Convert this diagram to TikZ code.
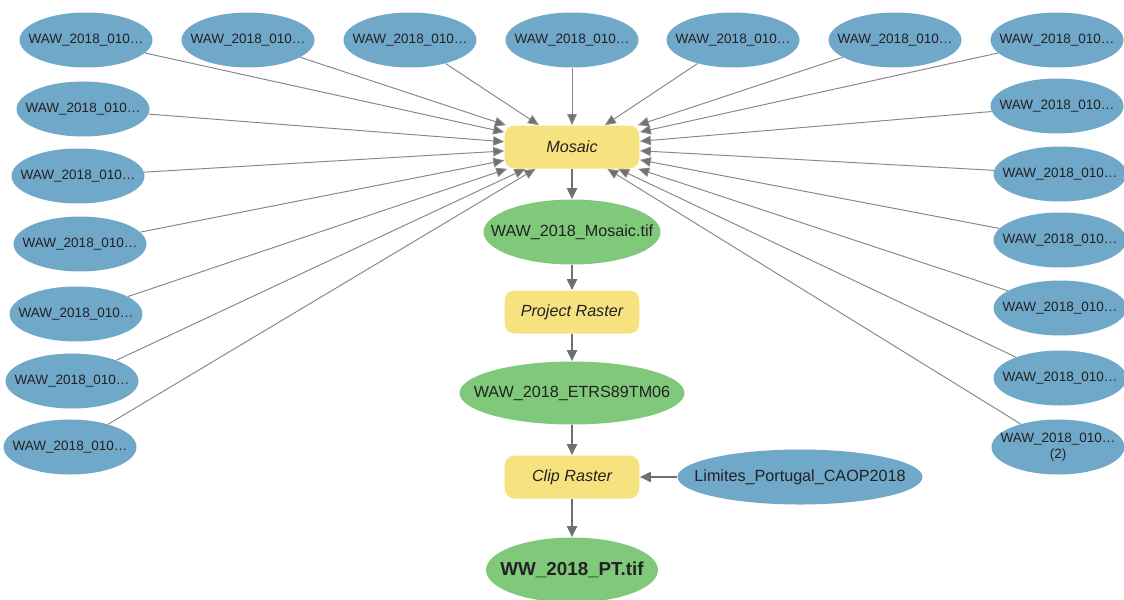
\documentclass[tikz,border=0pt]{standalone}
\usepackage{fontspec}
\setmainfont{Liberation Sans}
\usetikzlibrary{shapes.geometric,arrows.meta}

\definecolor{inblue}{RGB}{111,168,201}
\definecolor{toolyellow}{RGB}{247,226,128}
\definecolor{datagreen}{RGB}{128,201,122}
\definecolor{txt}{RGB}{34,34,34}
\definecolor{feedgray}{RGB}{135,135,135}
\definecolor{flowgray}{RGB}{112,112,112}

\newcommand{\lbl}[1]{\makebox[0pt]{#1}}

\tikzset{
  src/.style={ellipse, fill=inblue, inner sep=0pt, minimum width=2.66cm,
    minimum height=1.1cm, text=txt, font=\fontsize{7.7}{9}\selectfont},
  tool/.style={rectangle, rounded corners=0.2cm, fill=toolyellow, minimum width=2.7cm,
    minimum height=0.86cm, text=txt, font=\fontsize{9.2}{11}\selectfont\itshape},
  dataout/.style={ellipse, fill=datagreen, inner sep=0pt, minimum width=3.54cm,
    minimum height=1.3cm, text=txt, font=\fontsize{9.2}{11}\selectfont},
  feed/.style={draw=feedgray, line width=0.55pt, -{Triangle[length=0.22cm,width=0.19cm,fill=flowgray]}},
  flow/.style={draw=flowgray, line width=1.1pt, -{Triangle[length=0.22cm,width=0.2cm]}}
}

\begin{document}
\begin{tikzpicture}[x=0.02cm,y=-0.02cm]
\useasboundingbox (0,0) rectangle (1124,599);

% tool in the middle
\node[tool] (mosaic) at (572,147) {Mosaic};

% input rasters, top row
\node[src] (t1) at (86,40) {\lbl{WAW\_2018\_010…}};
\node[src] (t2) at (248,40) {\lbl{WAW\_2018\_010…}};
\node[src] (t3) at (410,40) {\lbl{WAW\_2018\_010…}};
\node[src] (t4) at (572,40) {\lbl{WAW\_2018\_010…}};
\node[src] (t5) at (733,40) {\lbl{WAW\_2018\_010…}};
\node[src] (t6) at (895,40) {\lbl{WAW\_2018\_010…}};
\node[src] (t7) at (1057,40) {\lbl{WAW\_2018\_010…}};

% left column
\node[src] (l1) at (83,109) {\lbl{WAW\_2018\_010…}};
\node[src] (l2) at (78,176) {\lbl{WAW\_2018\_010…}};
\node[src] (l3) at (80,244) {\lbl{WAW\_2018\_010…}};
\node[src] (l4) at (76,314) {\lbl{WAW\_2018\_010…}};
\node[src] (l5) at (72,381) {\lbl{WAW\_2018\_010…}};
\node[src] (l6) at (70,447) {\lbl{WAW\_2018\_010…}};

% right column
\node[src] (r1) at (1057,106) {\lbl{WAW\_2018\_010…}};
\node[src] (r2) at (1060,174) {\lbl{WAW\_2018\_010…}};
\node[src] (r3) at (1060,240) {\lbl{WAW\_2018\_010…}};
\node[src] (r4) at (1060,308) {\lbl{WAW\_2018\_010…}};
\node[src] (r5) at (1060,378) {\lbl{WAW\_2018\_010…}};
\node[src] (r6) at (1058,447) {\lbl{\begin{tabular}{@{}c@{}}WAW\_2018\_010…\\(2)\end{tabular}}};

\draw[feed] (t1) -- (mosaic);
\draw[feed] (t2) -- (mosaic);
\draw[feed] (t3) -- (mosaic);
\draw[feed] (t4) -- (mosaic);
\draw[feed] (t5) -- (mosaic);
\draw[feed] (t6) -- (mosaic);
\draw[feed] (t7) -- (mosaic);
\draw[feed] (l1) -- (mosaic);
\draw[feed] (l2) -- (mosaic);
\draw[feed] (l3) -- (mosaic);
\draw[feed] (l4) -- (mosaic);
\draw[feed] (l5) -- (mosaic);
\draw[feed] (l6) -- (mosaic);
\draw[feed] (r1) -- (mosaic);
\draw[feed] (r2) -- (mosaic);
\draw[feed] (r3) -- (mosaic);
\draw[feed] (r4) -- (mosaic);
\draw[feed] (r5) -- (mosaic);
\draw[feed] (r6) -- (mosaic);

% processing chain
\node[dataout] (mosaictif) at (572,232) {\lbl{WAW\_2018\_Mosaic.tif}};
\node[tool] (project) at (572,312) {Project Raster};
\node[dataout, minimum width=4.5cm, minimum height=1.26cm] (etrs) at (572,393) {\lbl{WAW\_2018\_ETRS89TM06}};
\node[tool] (clip) at (572,477) {Clip Raster};
\node[src, minimum width=4.9cm, font=\fontsize{9.2}{11}\selectfont] (limites) at (800,477) {\lbl{Limites\_Portugal\_CAOP2018}};
\node[dataout, minimum width=3.44cm, font=\fontsize{10.7}{12}\selectfont\bfseries] (pt) at (572,570) {\lbl{WW\_2018\_PT.tif}};

\draw[flow] (mosaic) -- (mosaictif);
\draw[flow] (mosaictif) -- (project);
\draw[flow] (project) -- (etrs);
\draw[flow] (etrs) -- (clip);
\draw[flow] (limites) -- (clip);
\draw[flow] (clip) -- (pt);
\end{tikzpicture}
\end{document}
